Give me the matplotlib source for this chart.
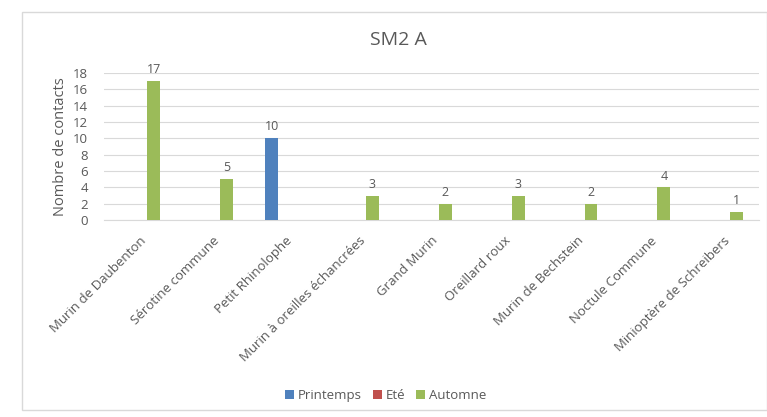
import numpy as np
import matplotlib.pyplot as plt
from matplotlib.patches import Rectangle

categories = ["Murin de Daubenton", "Sérotine commune", "Petit Rhinolophe",
              "Murin à oreilles échancrées", "Grand Murin", "Oreillard roux",
              "Murin de Bechstein", "Noctule Commune", "Minioptère de Schreibers"]
series_names = ["Printemps", "Eté", "Automne"]
printemps = [0, 0, 10, 0, 0, 0, 0, 0, 0]
ete = [0, 0, 0, 0, 0, 0, 0, 0, 0]
automne = [17, 5, 0, 3, 2, 3, 2, 4, 1]
colors = ["#4F81BD", "#C0504D", "#9BBB59"]

plt.rcParams["font.family"] = ["Open Sans", "DejaVu Sans"]
text_col = "#595959"

fig = plt.figure(figsize=(7.67, 4.17), dpi=100)
ax = fig.add_axes([0.135, 0.472, 0.855, 0.353])

x = np.arange(len(categories))
w = 0.19
for i, (vals, name, col) in enumerate(zip([printemps, ete, automne], series_names, colors)):
    pos = x + (i - 1) * w
    bars = ax.bar(pos, vals, width=0.178, color=col, label=name, zorder=3)
    for b, v in zip(bars, vals):
        if v > 0:
            ax.text(b.get_x() + b.get_width() / 2, v + 0.6, str(v),
                    ha="center", va="bottom", fontsize=9, color=text_col)

ax.set_xlim(-0.5, len(categories) - 0.5)
ax.set_ylim(0, 18)
ax.set_yticks(range(0, 19, 2))
ax.yaxis.grid(True, color="#d9d9d9", linewidth=0.8, zorder=0)
ax.tick_params(axis="y", length=0, labelsize=9.5, labelcolor=text_col, pad=11)
ax.tick_params(axis="x", length=0, labelsize=9.5, labelcolor=text_col, pad=10)
ax.set_xticks(x)
ax.set_xticklabels(categories, rotation=45, ha="right", rotation_mode="anchor")
for s in ["top", "right", "left"]:
    ax.spines[s].set_visible(False)
ax.spines["bottom"].set_color("#d9d9d9")
ax.set_ylabel("Nombre de contacts", fontsize=10.5, color=text_col, labelpad=4)

fig.text(0.519, 0.905, "SM2 A", ha="center", va="center", fontsize=14, color=text_col)

handles, labels = ax.get_legend_handles_labels()
fig.legend(handles, labels, loc="center", bbox_to_anchor=(0.503, 0.052), ncol=3,
           frameon=False, fontsize=9.5, labelcolor=text_col, handlelength=0.7,
           handleheight=0.7, handletextpad=0.3, columnspacing=0.8)

fig.patches.append(Rectangle((22 / 767, 7 / 417), 1 - 22 / 767, 398 / 417,
                             transform=fig.transFigure, fill=False,
                             edgecolor="#d9d9d9", linewidth=1))

fig.savefig("out.png", dpi=100)
